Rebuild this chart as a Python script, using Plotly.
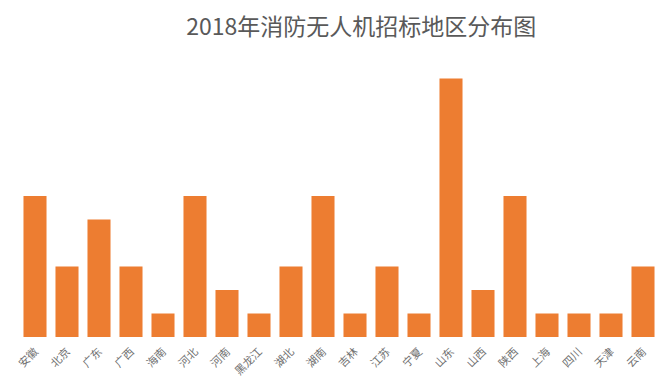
import plotly.graph_objects as go

regions = ["安徽", "北京", "广东", "广西", "海南", "河北", "河南", "黑龙江", "湖北", "湖南",
           "吉林", "江苏", "宁夏", "山东", "山西", "陕西", "上海", "四川", "天津", "云南"]
counts = [6, 3, 5, 3, 1, 6, 2, 1, 3, 6, 1, 3, 1, 11, 2, 6, 1, 1, 1, 3]
title_text = "2018年消防无人机招标地区分布图"

fig = go.Figure(go.Bar(x=regions, y=counts, marker=dict(color="#ED7D31", line=dict(width=0)),
                       hoverinfo="x+y"))
fig.update_layout(
    width=664, height=381,
    margin=dict(l=11, r=13, t=47, b=52, autoexpand=False),
    paper_bgcolor="white", plot_bgcolor="white",
    bargap=0.28,
    showlegend=False,
    title=dict(text=title_text, x=0.532, xanchor="center", y=0.95, yanchor="middle",
               font=dict(family="Noto Sans CJK SC", size=23, color="#595959")),
    font=dict(family="Noto Sans CJK SC", color="#595959"),
)
fig.update_xaxes(tickangle=-45, tickfont=dict(size=11, color="#707070"), showline=False,
                 showgrid=False, ticks="", ticklen=0, automargin=False, ticklabelstandoff=5)
fig.update_yaxes(range=[0, 12], visible=False, showgrid=False, automargin=False)
fig.write_html("out.html")
